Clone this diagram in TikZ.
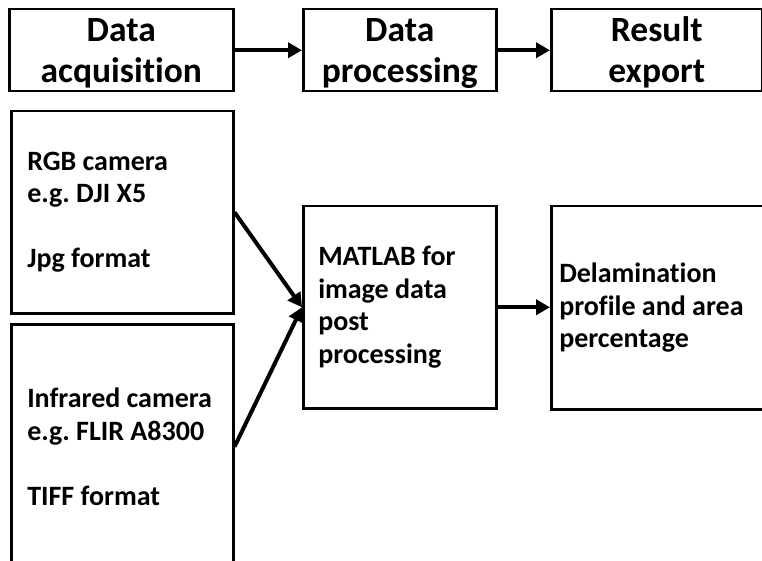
\documentclass[tikz,border=0pt]{standalone}
\usepackage{fontspec}
\setmainfont{Carlito}[Ligatures=NoCommon]
\frenchspacing
\usetikzlibrary{arrows.meta}
\begin{document}
\begin{tikzpicture}[x=1pt,y=-1pt,
  box/.style={draw, line width=2.5pt, inner sep=0pt, anchor=north west},
  titlebox/.style={box, font=\fontsize{35.5}{41}\selectfont\bfseries, align=center},
  bodybox/.style={box, font=\fontsize{28}{32.5}\selectfont\bfseries, align=flush left},
  arr/.style={line width=4pt, -{Triangle[length=14pt,width=15pt]}}]
\path[use as bounding box] (0,0) rectangle (762,561);
\clip (0,0) rectangle (762,561);
% top row
\node[titlebox, minimum width=224, minimum height=82] (acq) at (8,8) {\rule{0pt}{30pt}Data\\acquisition};
\node[titlebox, minimum width=193, minimum height=82] (proc) at (302,8) {\rule{0pt}{30pt}Data\\processing};
\node[titlebox, minimum width=211, minimum height=82] (res) at (550,8) {\rule{0pt}{30pt}Result\\export};
% body
\node[bodybox, minimum width=222, minimum height=202, text width=190] (rgb) at (10,110)
  {RGB camera\\e.g. DJI X5\\[32.5pt]Jpg format};
\node[bodybox, minimum width=222, minimum height=245, text width=190] (ir) at (10,323)
  {Infrared camera\\e.g. FLIR A8300\\[32.5pt]TIFF format};
\node[bodybox, minimum width=193, minimum height=202, text width=163] (matlab) at (302,205)
  {MATLAB for\\image data\\post\\processing};
\node[bodybox, minimum width=220, minimum height=203, text width=204] (delam) at (550,205)
  {Delamination\\profile and area\\percentage};
% arrows
\draw[arr] (acq.east) -- (proc.west);
\draw[arr] (proc.east) -- (res.west);
\draw[arr] (rgb.east) -- (matlab.west);
\draw[arr] (ir.east) -- (matlab.west);
\draw[arr] (matlab.east) -- (matlab.east -| delam.west);
\end{tikzpicture}
\end{document}
